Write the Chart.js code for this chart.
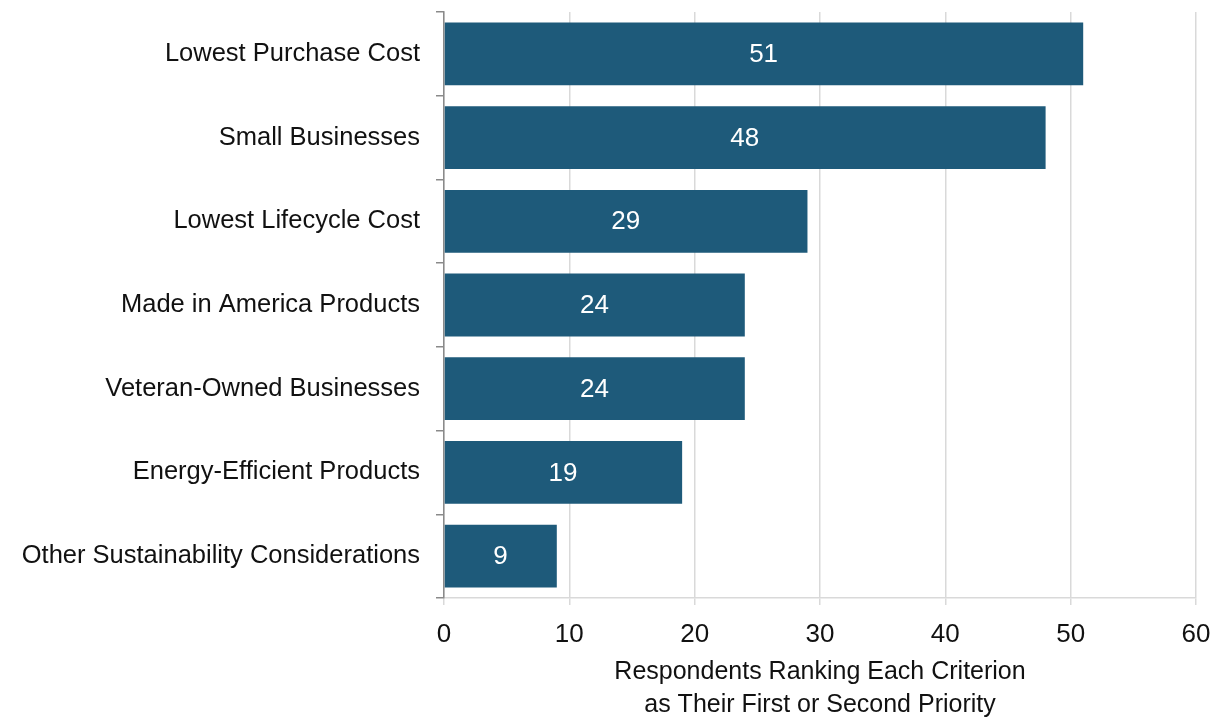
<!DOCTYPE html>
<html>
<head>
<meta charset="utf-8">
<script src="https://cdn.jsdelivr.net/npm/chart.js@4/dist/chart.umd.min.js"></script>
<style>
  html, body { margin: 0; padding: 0; background: #fff; }
  #wrap { width: 1215px; height: 717px; position: relative; }
</style>
</head>
<body>
<div id="wrap"><canvas id="chart"></canvas></div>
<script>
const categories = [
    "Lowest Purchase Cost",
    "Small Businesses",
    "Lowest Lifecycle Cost",
    "Made in America Products",
    "Veteran-Owned Businesses",
    "Energy-Efficient Products",
    "Other Sustainability Considerations"
];
const respondents = [51, 48, 29, 24, 24, 19, 9];
const axisTitle = ["Respondents Ranking Each Criterion", "as Their First or Second Priority"];

const FONT = "'Liberation Sans', Arial, sans-serif";
const BAR = "#1e5a7a";

// white value labels in the middle of each bar
const valueLabels = {
    id: "valueLabels",
    afterDatasetsDraw(chart) {
        const ctx = chart.ctx;
        const meta = chart.getDatasetMeta(0);
        const x = chart.scales.x;
        ctx.save();
        ctx.fillStyle = "#fff";
        ctx.font = "26px " + FONT;
        ctx.textAlign = "center";
        ctx.textBaseline = "middle";
        meta.data.forEach((bar, i) => {
            const v = respondents[i];
            ctx.fillText(String(v), x.getPixelForValue(v / 2), bar.y + 1);
        });
        ctx.restore();
    }
};

new Chart(document.getElementById("chart"), {
    type: "bar",
    data: {
        labels: categories,
        datasets: [{
            data: respondents,
            backgroundColor: BAR,
            barPercentage: 0.75,
            categoryPercentage: 1
        }]
    },
    options: {
        indexAxis: "y",
        responsive: true,
        maintainAspectRatio: false,
        animation: false,
        layout: { padding: { top: 12, right: 19, left: 0, bottom: 0 } },
        plugins: {
            legend: { display: false },
            tooltip: { enabled: false }
        },
        scales: {
            x: {
                min: 0,
                max: 60,
                ticks: {
                    stepSize: 10,
                    color: "#111",
                    font: { family: FONT, size: 26 },
                    padding: 14
                },
                grid: {
                    color: "#d9d9d9",
                    lineWidth: 1.5,
                    tickLength: 7
                },
                border: { color: "#d9d9d9", width: 1.5 },
                title: {
                    display: true,
                    text: axisTitle,
                    color: "#111",
                    font: { family: FONT, size: 25, lineHeight: 1.32 },
                    padding: { top: 0, bottom: -5 }
                },
                afterFit(scale) {
                    scale.height = 119;
                    scale.paddingLeft = 0;
                    scale.paddingRight = 0;
                }
            },
            y: {
                offset: true,
                ticks: {
                    color: "#111",
                    font: { family: FONT, size: 25.5 },
                    padding: 16
                },
                grid: {
                    offset: true,
                    drawOnChartArea: false,
                    drawTicks: true,
                    tickLength: 8,
                    color: "#8a8a8a",
                    lineWidth: 1.5
                },
                border: { color: "#8a8a8a", width: 1.5 },
                afterFit(scale) {
                    scale.width = 444;
                    scale.paddingTop = 0;
                    scale.paddingBottom = 0;
                }
            }
        }
    },
    plugins: [valueLabels]
});
</script>
</body>
</html>
